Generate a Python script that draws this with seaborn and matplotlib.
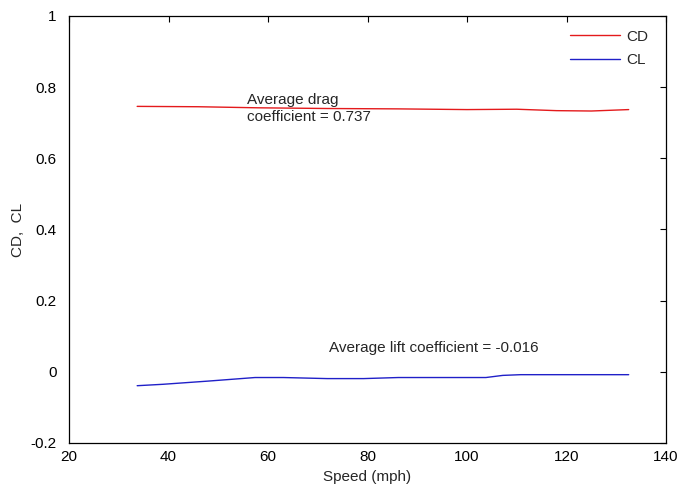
import numpy as np
import pandas as pd
import seaborn as sns
import matplotlib.pyplot as plt

##############################################################################
# Data
##############################################################################
speedCD = [33.7, 46.0, 58.0, 72.0, 86.0, 100.0, 110.0, 118.0, 125.0, 132.5]
valsCD = [0.746, 0.745, 0.742, 0.740, 0.739, 0.737, 0.738, 0.734, 0.733, 0.737]
speedCL = [33.7, 38.9, 48.0, 57.4, 63.1, 71.9, 79.2, 86.2, 103.8, 107.2, 110.8, 132.5]
valsCL = [-0.039, -0.035, -0.026, -0.016, -0.016, -0.019, -0.019, -0.016,
          -0.016, -0.010, -0.008, -0.008]
xTicks = [20, 40, 60, 80, 100, 120, 140]
yTicks = [-0.2, 0, 0.2, 0.4, 0.6, 0.8, 1]
yTickLabels = ['-0.2', '0', '0.2', '0.4', '0.6', '0.8', '1']

df = pd.concat([
    pd.DataFrame({'speed': speedCD, 'val': valsCD, 'coef': 'CD'}),
    pd.DataFrame({'speed': speedCL, 'val': valsCL, 'coef': 'CL'}),
])

##############################################################################
# Plotting
##############################################################################
sns.set_style('white')
plt.rcParams['font.family'] = ['Liberation Sans', 'DejaVu Sans']
FS = 11

fig = plt.figure(figsize=(6.78, 4.87), dpi=100)
ax = fig.add_axes([69 / 678, 1 - 443 / 487, 597 / 678, 427 / 487])
sns.lineplot(
    data=df, x='speed', y='val', hue='coef',
    palette={'CD': '#e41a1c', 'CL': '#2020c8'},
    linewidth=1, ax=ax
)
ax.set_xlim(20, 140)
ax.set_ylim(-0.2, 1)
ax.set_xticks(xTicks)
ax.set_xticklabels([str(t) for t in xTicks])
ax.set_yticks(yTicks)
ax.set_yticklabels(yTickLabels)
ax.tick_params(direction='in', top=True, right=True, length=4,
               width=0.8, labelsize=FS, colors='black')
ax.tick_params(axis='x', pad=5)
ax.tick_params(axis='y', pad=9)
for sp in ax.spines.values():
    sp.set_color('black')
    sp.set_linewidth(0.9)
ax.set_xlabel('Speed (mph)', fontsize=FS, labelpad=4)
ax.set_ylabel('CD,  CL', fontsize=FS, labelpad=4)

ax.text(55.8, 0.784, 'Average drag\ncoefficient = 0.737',
        va='top', ha='left', fontsize=FS, linespacing=1.3)
ax.text(72.3, 0.086, 'Average lift coefficient = -0.016',
        va='top', ha='left', fontsize=FS)

leg = ax.legend(loc='upper right', bbox_to_anchor=(0.993, 1.0),
                frameon=False, fontsize=FS,
                handlelength=3.3, handletextpad=0.4, labelspacing=0.6,
                borderaxespad=0.5)
for h in leg.get_lines():
    h.set_linewidth(1)

fig.savefig('out.png', dpi=100)
plt.close()
